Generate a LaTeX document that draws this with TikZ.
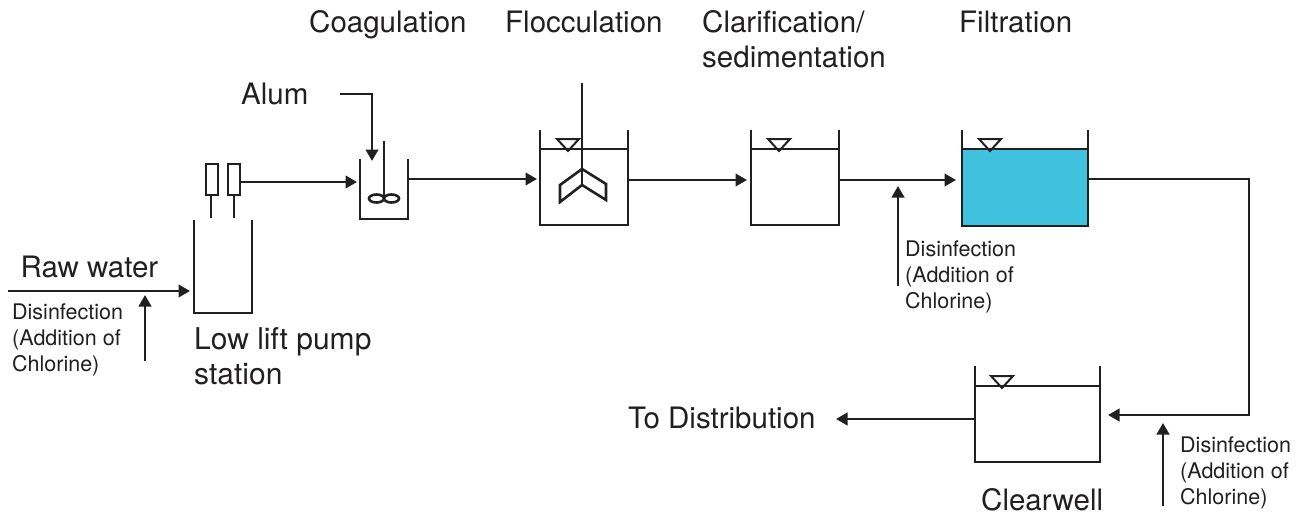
\documentclass[tikz,border=0pt]{standalone}
\usepackage{fontspec}
\setmainfont{TeX Gyre Heros}
\usetikzlibrary{arrows.meta}
\definecolor{filtercyan}{rgb}{0.25, 0.76, 0.87}
\definecolor{pipeblack}{rgb}{0.13, 0.12, 0.12}
\tikzset{
  pipe/.style={pipeblack,line width=2.6pt},
  flow/.style={pipe,-{Triangle[length=11.5pt,width=12.5pt]}},
  biglabel/.style={anchor=base west,inner sep=0pt,align=left,pipeblack,font=\fontsize{29.5}{35}\selectfont},
  smalllabel/.style={anchor=base west,inner sep=0pt,align=left,pipeblack,font=\fontsize{21.5}{26}\selectfont},
}
\begin{document}
\begin{tikzpicture}[x=1pt,y=-1pt]
      \useasboundingbox (0,0) rectangle (1301,514);
      \coordinate (rawin) at (8,291);
      \coordinate (pumpin) at (190,291);
      \coordinate (pumpout) at (241,182);
      \coordinate (coagin) at (357,182);
      \coordinate (alumin) at (340,94);
      \coordinate (alumbend) at (372,94);
      \coordinate (alumout) at (372,161);
      \coordinate (coagout) at (408,179);
      \coordinate (floccin) at (537,179);
      \coordinate (floccout) at (628,180);
      \coordinate (clarin) at (747,180);
      \coordinate (clarout) at (839,180);
      \coordinate (filterin) at (956,180);
      \coordinate (filterout) at (1088,179);
      \coordinate (bendA) at (1249,179);
      \coordinate (bendB) at (1249,415);
      \coordinate (clearin) at (1108,415);
      \coordinate (clearout) at (975,419);
      \coordinate (distout) at (836,419);
      \coordinate (chlorAa) at (145,361);
      \coordinate (chlorAb) at (145,295);
      \coordinate (chlorBa) at (898,286);
      \coordinate (chlorBb) at (898,186);
      \coordinate (chlorCa) at (1163,506);
      \coordinate (chlorCb) at (1163,423);

      % filter water first
      \fill [filtercyan] (962,149) rectangle (1088,226);

      % tanks: left/right/top/bottom
      \foreach \xl/\xr/\yt/\yb in {194/252/220/313, 360/408/159/219, 540/628/130/225, 751/839/130/225, 962/1088/130/226, 975/1100/366/462}
      {
       \draw [pipe] (\xl,\yt) -- (\xl,\yb) -- (\xr,\yb) -- (\xr,\yt);
      }
      % water lines with level marks
      \foreach \xl/\xr/\yw/\xm in {540/628/149/568, 751/839/149/779, 962/1088/149/990, 975/1100/386/1002}
      {
       \draw [pipe] (\xl,\yw) -- (\xr,\yw);
       \draw [pipe,line width=2pt,line join=miter] (\xm-11,\yw-10) -- (\xm+11,\yw-10) -- (\xm,\yw+2) -- cycle;
      }

      % pump motors
      \foreach \xa/\xb/\xs in {206/218/211, 228/240/234}
      {
       \draw [pipe,fill=white] (\xa,164) rectangle (\xb,195);
       \draw [pipe] (\xs,195) -- (\xs,218);
      }

      % mixer in coagulation
      \draw [pipe] (384,141) -- (384,198);
      \draw [pipe] (376.5,198.5) ellipse (7.5 and 4);
      \draw [pipe] (391.5,198.5) ellipse (7.5 and 4);

      % paddle in flocculation
      \draw [pipe] (582,83) -- (582,185);
      \draw [pipe] (582,169) -- (560,185) -- (560,202) -- (582,185) -- (606,200) -- (606,184) -- cycle;

      % flow lines
      \draw [flow] (rawin) -- (pumpin);
      \draw [flow] (pumpout) -- (coagin);
      \draw [flow] (alumin) -- (alumbend) -- (alumout);
      \draw [flow] (coagout) -- (floccin);
      \draw [flow] (floccout) -- (clarin);
      \draw [flow] (clarout) -- (filterin);
      \draw [flow] (filterout) -- (bendA) -- (bendB) -- (clearin);
      \draw [flow] (clearout) -- (distout);
      \draw [flow] (chlorAa) -- (chlorAb);
      \draw [flow] (chlorBa) -- (chlorBb);
      \draw [flow] (chlorCa) -- (chlorCb);

      % labels, anchored on the last line
      \node [biglabel] (coag) at (309,32) {Coagulation};
      \node [biglabel] (flocc) at (505,32) {Flocculation};
      \node [biglabel] (clar) at (702,67) {Clarification/\\sedimentation};
      \node [biglabel] (filt) at (959,32) {Filtration};
      \node [biglabel] (alum) at (241,104) {Alum};
      \node [biglabel] (raw) at (20.5,277) {Raw water};
      \node [biglabel,font=\fontsize{30}{35}\selectfont] (pump) at (194,384) {Low lift pump\\station};
      \node [biglabel] (dist) at (628,428) {To Distribution};
      \node [biglabel] (clear) at (981,510) {Clearwell};
      \node [smalllabel] (disA) at (12,371) {Disinfection\\(Addition of\\Chlorine)};
      \node [smalllabel] (disB) at (905,308) {Disinfection\\(Addition of\\Chlorine)};
      \node [smalllabel] (disC) at (1180,504) {Disinfection\\(Addition of\\Chlorine)};
\end{tikzpicture}
\end{document}
